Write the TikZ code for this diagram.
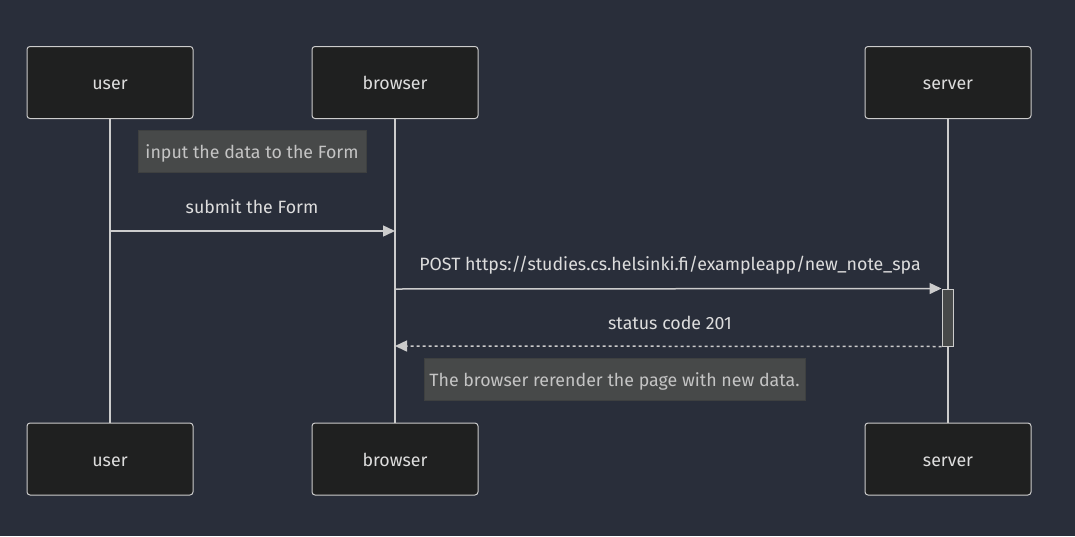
\documentclass[tikz,border=0pt]{standalone}
\usepackage{fontspec}
\setmainfont{Fira Sans}
\usetikzlibrary{arrows.meta}
\definecolor{bg}{HTML}{292E3A}
\definecolor{actorfill}{HTML}{1F2020}
\definecolor{actorline}{HTML}{CCCCCC}
\definecolor{notefill}{HTML}{474949}
\definecolor{noteline}{HTML}{3E4040}
\definecolor{notetext}{HTML}{C4C4C4}
\definecolor{msgtext}{HTML}{DDDDDD}
\definecolor{lineclr}{HTML}{CCCCCC}
\tikzset{
  x=1pt, y=-1pt,
  txt/.style={font=\fontsize{17.8}{21}\selectfont, text height=15pt, text depth=0.5pt},
  actor/.style={txt, draw=actorline, fill=actorfill, rounded corners=3pt, line width=1pt,
    minimum width=166pt, minimum height=72pt, inner sep=0pt, text=msgtext},
  lifeline/.style={draw=lineclr, line width=1.5pt},
  notebox/.style={txt, draw=noteline, fill=notefill, line width=1pt, inner sep=0pt,
    text=notetext},
  msglabel/.style={txt, text=msgtext, inner sep=0pt},
  msg/.style={draw=lineclr, line width=1.5pt, -{Triangle[length=12pt,width=11pt]}},
  reply/.style={msg, dash pattern=on 3pt off 3pt},
  activation/.style={draw=lineclr, fill=notefill, line width=1pt, minimum width=11pt,
    minimum height=57pt, inner sep=0pt},
}
\begin{document}
\begin{tikzpicture}
\fill[bg] (0,0) rectangle (1075,536);
\useasboundingbox (0,0) rectangle (1075,536);
% lifelines
\coordinate (ut) at (110,118); \coordinate (ub) at (110,423);
\coordinate (bt) at (395,118); \coordinate (bb) at (395,423);
\coordinate (st) at (948,118); \coordinate (sb) at (948,423);
\draw[lifeline] (ut) -- (ub);
\draw[lifeline] (bt) -- (bb);
\draw[lifeline] (st) -- (sb);
% actors
\node[actor] (user1) at (110,82.5) {user};
\node[actor] (browser1) at (395,82.5) {browser};
\node[actor] (server1) at (948,82.5) {server};
\node[actor] (user2) at (110,459) {user};
\node[actor] (browser2) at (395,459) {browser};
\node[actor] (server2) at (948,459) {server};
% note 1
\node[notebox, minimum width=228pt, minimum height=42pt] (note1) at (252,151) {input the data to the Form};
% message 1
\coordinate (m1s) at (110,231); \coordinate (m1e) at (395,231);
\node[msglabel] (l1) at (252,206) {submit the Form};
\draw[msg] (m1s) -- (m1e);
% activation
\node[activation] (act) at (947.5,317.5) {};
% message 2
\coordinate (m2s) at (395,289);
\node[msglabel] (l2) at (670,263) {POST https://studies.cs.helsinki.fi/exampleapp/new\_note\_spa};
\draw[msg] (m2s) -- (act.north west);
% message 3
\coordinate (m3e) at (395,346);
\node[msglabel] (l3) at (670,322) {status code 201};
\draw[reply] (act.south west) -- (m3e);
% note 2
\node[notebox, minimum width=381pt, minimum height=42pt] (note2) at (614.5,379) {The browser rerender the page with new data.};
\end{tikzpicture}
\end{document}
